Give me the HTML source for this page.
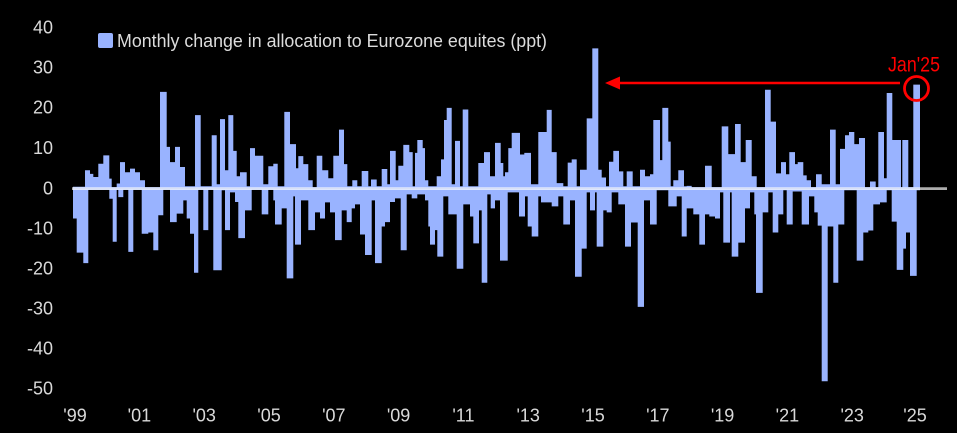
<!DOCTYPE html>
<html>
<head>
<meta charset="utf-8">
<style>
  html,body{margin:0;padding:0;background:#000;}
  body{width:957px;height:433px;overflow:hidden;}
  svg{display:block;}
  text{font-family:"Liberation Sans",sans-serif;}
</style>
</head>
<body>
<svg width="957" height="433" viewBox="0 0 957 433" xmlns="http://www.w3.org/2000/svg">
  <rect x="0" y="0" width="957" height="433" fill="#000"/>

  <!-- Y axis labels -->
  <g fill="#d9d9d9" font-size="18" text-anchor="end">
    <text x="53" y="33.5">40</text>
    <text x="53" y="73.5">30</text>
    <text x="53" y="113.5">20</text>
    <text x="53" y="154">10</text>
    <text x="53" y="194.5">0</text>
    <text x="53" y="234.5">-10</text>
    <text x="53" y="274.5">-20</text>
    <text x="53" y="314.5">-30</text>
    <text x="53" y="354.5">-40</text>
    <text x="53" y="394.5">-50</text>
  </g>

  <!-- X axis labels -->
  <g fill="#d9d9d9" font-size="18" text-anchor="middle">
    <text x="75" y="421.5">'99</text>
    <text x="139.4" y="421.5">'01</text>
    <text x="204.2" y="421.5">'03</text>
    <text x="269" y="421.5">'05</text>
    <text x="333.8" y="421.5">'07</text>
    <text x="398.6" y="421.5">'09</text>
    <text x="463.4" y="421.5">'11</text>
    <text x="528.2" y="421.5">'13</text>
    <text x="593" y="421.5">'15</text>
    <text x="657.8" y="421.5">'17</text>
    <text x="722.6" y="421.5">'19</text>
    <text x="787.4" y="421.5">'21</text>
    <text x="852.2" y="421.5">'23</text>
    <text x="915" y="421.5">'25</text>
  </g>

  <!-- Legend -->
  <rect x="98" y="33" width="15" height="15" rx="2" fill="#99b3ff"/>
  <text x="117" y="47" font-size="18.5" fill="#dcdcdc" textLength="430" lengthAdjust="spacingAndGlyphs">Monthly change in allocation to Eurozone equites (ppt)</text>

  <!-- Bars -->
  <g transform="translate(0,188.3) scale(1,-4.02)" fill="#99b3ff">
    <path d="M73 0V0.4H85V4.5H90V3.6H93.3V2.8H98.3V6.1H103.3V8.2H109.3V2.4H111.7V0.3H116.7V1.2H120V6.5H125V4H130V4.9H135V4H140V2H145V0.3H160V24H166.7V10.3H170V6.5H175V10.3H180V5.3H185V0.5H195V18.2H200.7V0.5H211.7V13.2H216.7V1H220V17.2H225V4.5H228.3V18.2H233.3V9.3H236.7V3H240V4H246.7V0.5H250V10H255V8.1H263.3V1H268.3V5.5H273.3V6.1H277.7V0.5H284.3V19H290V11H296V5H298.3V8H303.3V6H308.3V2H312.7V0.3H316.7V8.1H322.3V4.5H328.3V2.5H333.3V8.1H339V14.6H344V6H347.3V0.5H352.3V2H357.3V0.5H361.7V4.3H368.3V0.5H371V2.2H376.7V0.5H381.7V4.8H387.3V1H390V9.3H395.7V2H398.3V5.6H403.3V10.8H409.3V9H412.7V0.5H415V8.8H417.3V12H422.7V10H425V2H428.3V0.5H436.7V3H441V7.2H444V17H446.7V20H451.7V1H455V11.8H460V0.5H462.7V19.6H468.3V0.5H478.3V6.3H484V9H490V3H495V11.3H500.7V6.3H503.3V3H505V4H508.3V10H511.7V13.8H520V8.4H524.3V8.8H531V1H538.3V14H546.7V19.5H551.7V9H556.7V1.3H563.3V0.5H567.7V6.4H571.7V7.2H576.7V0.5H580V4.6H586.7V17.4H592.3V34.8H598.3V4.6H601.7V2.7H606V0.5H609V6.6H613.3V9.3H619V4.2H623.3V0.5H626.7V4.2H632.7V0.5H640V4.6H645V3H650V3.5H653.3V17H660V7H662.3V20H668.3V11.6H670.7V0.5H673.3V2H678.3V4.5H684V0.5H686.7V0.6H691.7V0.3H705V5.6H711.7V0.3H721.7V15.4H728.3V8.5H735V16H740.7V6.5H745.7V12H751.7V3H756.7V0.3H765V24.5H770.7V16.6H776V3.7H781V6.5H786V3.5H789.3V9H795V6H797.7V6.5H803.3V3.2H806.7V2H811V0.3H816V3.5H821.7V1H830V14.6H835.7V1H840V9.8H845V13.2H849V14H854.3V11H859V12.5H865V0.3H870V1.7H875.7V0.3H878.3V14H884V2.5H886.7V23.7H892.3V12H895V12H901V0.3H902.3V12H908.3V0.3H913.3V25.8H920V0Z"/>
    <path d="M73 0V-7.5H76.7V-16H83.3V-18.6H88.3V-0.4H109.3V-2.6H112.7V-13.3H116.7V-0.4H118.3V-2.2H123.3V-0.4H128.3V-15.8H133.3V-0.4H141.7V-11.3H148.3V-11H153.3V-15.4H158.3V-6.7H163.3V-0.4H170V-8.4H176.7V-6.3H183.3V-3H186.7V-7.5H190V-11.3H194V-21H198.3V-0.4H203.3V-10.4H208.3V-0.4H213.3V-20.4H221.7V-0.5H225V-10.4H230V-1H235V-3.4H238.3V-12.4H245V-5.5H251.7V-0.4H261.7V-6.5H268.3V-0.4H273.3V-3H275V-9H281.7V-5H286.7V-22.4H293.3V-2H295V-14H301V-3H308.3V-10.4H315V-6H320V-7.5H325V-3.5H330V-6H335V-12.9H341.7V-5.5H346.7V-8.4H351.7V-5H355V-4H360V-11.5H365V-16.6H371.7V-3H375V-18.6H381.7V-9.5H385V-8.4H390V-3.4H395V-2.5H400.7V-15.4H406.7V-1.5H411.7V-2.5H417.3V-1.5H425V-3H428.3V-9.5H430V-14H435V-10.4H437.3V-17H443.3V-2H448.3V-6.5H456.7V-20H463.3V-4H470V-7H473.3V-13.7H479V-5.5H481.7V-23.5H487.3V-1.5H490.7V-5H495V-3H500V-18H507.7V-1H519V-7H525V-2H527.7V-9.5H531.7V-12H538.3V-2H541V-3.5H551.7V-4.5H558.3V-2H563.3V-9H570V-3H575V-22H581.7V-15H586.7V-1H590V-5.5H595V-1H596.7V-14.5H603.3V-5.5H606.7V-6H611.7V-1H618.3V-4H625V-14.5H631V-8.5H637.7V-29.5H644V-3H650V-9H656.7V-0.5H668.3V-4.5H676.7V-2H681.7V-12H686.7V-5H693.3V-6.5H699.3V-14H705V-6.5H709.3V-7H715V-7.5H720V-1H723.3V-13.5H730V-1H731.7V-17H738.3V-13.5H745V-5H750V-1H754.3V-6.5H756V-26H762.7V-6H768.3V-1H772.7V-11H778.3V-6.5H783.3V-0.5H786.7V-9H792.7V-0.8H801.7V-9H809V-2H814.3V-6H817.7V-9.3H821.7V-48H827.7V-9.5H833.3V-23.5H838.3V-9H844.3V-0.5H856.7V-18H863.3V-11H868.3V-10.5H873.3V-4H880V-3.5H886.7V-0.5H891.7V-8.3H896.7V-20.3H903.3V-15H906V-11H910V-21.8H916.7V-0.5H920V0Z"/>
  </g>

  <!-- Zero line -->
  <line x1="72" y1="188.6" x2="947" y2="188.6" stroke="#ffffff" stroke-opacity="0.68" stroke-width="2.8"/>

  <!-- Annotation -->
  <line x1="900" y1="83" x2="617" y2="83" stroke="#ff0000" stroke-width="2.6"/>
  <polygon points="605,83 620,76.5 620,89.5" fill="#ff0000"/>
  <circle cx="916.5" cy="88.5" r="12" fill="none" stroke="#ff0000" stroke-width="2.8"/>
  <text x="888" y="71.5" font-size="21" fill="#ff0000" textLength="52" lengthAdjust="spacingAndGlyphs">Jan'25</text>
</svg>
</body>
</html>
